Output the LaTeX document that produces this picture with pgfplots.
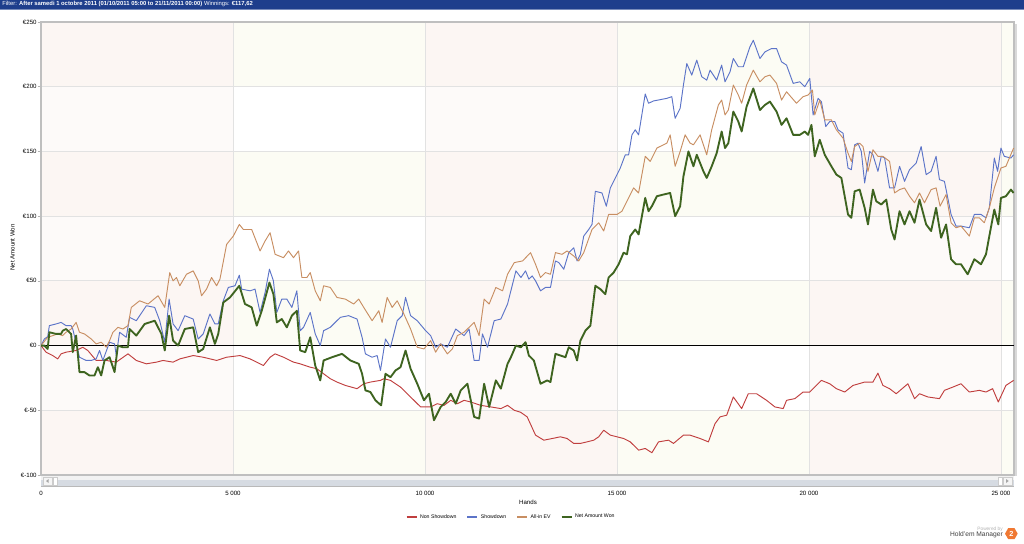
\documentclass[border=0pt]{standalone}
\usepackage{fontspec}
\setmainfont{Liberation Sans}
\usepackage{pgfplots}
\pgfplotsset{compat=1.18}
\usetikzlibrary{shapes.geometric}
\definecolor{hdr}{RGB}{30,62,140}
\definecolor{cRed}{RGB}{192,62,62}
\definecolor{cBlue}{RGB}{92,116,200}
\definecolor{cOrange}{RGB}{200,142,98}
\definecolor{cGreen}{RGB}{62,100,32}
\definecolor{pinkT}{RGB}{252,246,243}
\definecolor{pinkW}{RGB}{253,250,249}
\definecolor{yelT}{RGB}{252,252,244}
\definecolor{gridc}{RGB}{226,226,226}
\definecolor{scrl}{RGB}{214,219,226}
\begin{document}
\begin{tikzpicture}
\begin{axis}[
  at={(30.75pt,51pt)}, anchor=south west,
  scale only axis, width=729.75pt, height=339.75pt,
  xmin=0, xmax=25340, ymin=-100, ymax=250,
  scaled ticks=false,
  xtick={0,5000,10000,15000,20000,25000},
  xticklabels={0,5 000,10 000,15 000,20 000,25 000},
  ytick={-100,-50,0,50,100,150,200,250},
  yticklabels={€-100,€-50,€0,€50,€100,€150,€200,€250},
  grid=major, grid style={gridc, line width=0.6pt},
  axis line style={gray!50, line width=0.8pt},
  tick label style={font=\fontsize{4.6}{5}\selectfont},
  xtick style={draw=none},
  ytick style={gray!60, line width=0.5pt},
  major tick length=2.5pt, tick align=outside,
  ytick pos=left, xtick pos=bottom,
  xticklabel style={anchor=center, yshift=-11pt},
  yticklabel style={anchor=east, inner sep=0.6pt},
  set layers, clip=true,
  legend columns=4,
  legend style={at={(0.4835,-0.093)}, anchor=center, draw=none, fill=none,
    font=\fontsize{3.9}{4.5}\selectfont,
    /tikz/every even column/.append style={column sep=5.5pt}},
  legend image code/.code={\draw[#1, line width=1.3pt] (0pt,0pt) -- (7.5pt,0pt);},
]
\begin{pgfonlayer}{axis background}
\fill[yelT] (axis cs:0,-100) rectangle (axis cs:25340,250);
\fill[pinkT] (axis cs:0,-100) rectangle (axis cs:5000,250);
\fill[pinkT] (axis cs:10000,-100) rectangle (axis cs:15000,250);
\fill[pinkT] (axis cs:20000,-100) rectangle (axis cs:25000,250);
\fill[white] (axis cs:0,150) rectangle (axis cs:25340,200);
\fill[white] (axis cs:0,50) rectangle (axis cs:25340,100);
\fill[white] (axis cs:0,-50) rectangle (axis cs:25340,0);
\fill[pinkW] (axis cs:0,150) rectangle (axis cs:5000,200);
\fill[pinkW] (axis cs:0,50) rectangle (axis cs:5000,100);
\fill[pinkW] (axis cs:0,-50) rectangle (axis cs:5000,0);
\fill[pinkW] (axis cs:10000,150) rectangle (axis cs:15000,200);
\fill[pinkW] (axis cs:10000,50) rectangle (axis cs:15000,100);
\fill[pinkW] (axis cs:10000,-50) rectangle (axis cs:15000,0);
\fill[pinkW] (axis cs:20000,150) rectangle (axis cs:25000,200);
\fill[pinkW] (axis cs:20000,50) rectangle (axis cs:25000,100);
\fill[pinkW] (axis cs:20000,-50) rectangle (axis cs:25000,0);
\end{pgfonlayer}
\addplot[black, line width=1.1pt, forget plot] coordinates {(0,0) (25340,0)};
% Non Showdown
\addplot[cRed, line width=0.7pt, line join=round] coordinates {
(0,0) (131,-5.1) (305,-7.7) (436,-10.3) (523,-6.4) (653,-5.1) (915,-3.8) (1089,-1.3)
(1219,-3.8) (1437,-11.5) (1698,-11.5) (1960,-12.8) (2265,-6.4) (2482,-11.5) (2744,-14.1)
(3005,-12.8) (3179,-11.5) (3440,-12.8) (3615,-10.3) (3963,-7.7) (4224,-9.0) (4573,-11.5)
(4834,-9.0) (5182,-7.7) (5444,-10.3) (5618,-12.8) (5792,-15.4) (5966,-9.0) (6097,-6.4)
(6315,-9.0) (6576,-12.8) (6750,-14.1) (7012,-16.7) (7186,-17.9) (7360,-21.8) (7534,-25.6)
(7708,-28.2) (7926,-30.8) (8231,-33.3) (8405,-29.5) (8579,-28.2) (8841,-26.9) (8928,-25.6)
(9102,-26.9) (9363,-32.1) (9537,-37.2) (9712,-42.3) (9886,-47.4) (10147,-47.4) (10321,-44.9)
(10496,-46.2) (10670,-42.3) (10844,-44.9) (11018,-42.3) (11192,-43.6) (11454,-46.2)
(11715,-47.4) (11976,-48.7) (12150,-46.2) (12325,-50.0) (12489,-51.5) (12662,-55.1)
(12879,-69.2) (13095,-73.1) (13312,-71.8) (13528,-70.5) (13701,-71.8) (13874,-75.6)
(14047,-75.6) (14221,-74.4) (14394,-73.1) (14524,-70.5) (14654,-65.4) (14827,-69.2)
(15000,-70.5) (15173,-71.8) (15346,-74.4) (15563,-80.8) (15736,-79.5) (15909,-82.8)
(16082,-74.4) (16342,-73.1) (16472,-75.6) (16731,-69.2) (16905,-69.2) (17164,-71.8)
(17381,-74.4) (17554,-60.3) (17684,-55.1) (17857,-53.8) (18030,-39.7) (18247,-48.7)
(18420,-37.2) (18636,-37.2) (18896,-42.3) (19112,-47.4) (19329,-48.7) (19416,-42.3)
(19632,-41.0) (19848,-35.9) (20021,-35.9) (20324,-26.9) (20541,-29.5) (20714,-33.3)
(20931,-35.9) (21147,-30.8) (21450,-28.2) (21666,-28.2) (21796,-21.3) (21926,-30.8)
(22099,-33.3) (22272,-37.2) (22576,-29.5) (22749,-41.0) (22879,-37.2) (23095,-39.7)
(23398,-41.0) (23528,-34.6) (23744,-32.1) (23961,-29.5) (24177,-35.9) (24437,-34.6)
(24610,-35.9) (24783,-33.3) (24931,-43.6) (25129,-30.8) (25329,-26.9)
};
\addlegendentry{Non Showdown}
% Showdown
\addplot[cBlue, line width=0.7pt, line join=round] coordinates {
(0,0) (87,5.1) (174,6.9) (218,15.4) (392,16.7) (523,17.9) (653,15.4) (784,15.4) (827,12.8)
(1002,-9.0) (1176,-11.5) (1307,-11.5) (1437,-10.3) (1524,-3.8) (1611,-11.5) (1786,2.6)
(1916,1.3) (1960,-7.7) (2047,10.3) (2221,6.4) (2308,21.8) (2482,19.2) (2744,30.8)
(2961,29.5) (3092,19.2) (3223,2.6) (3336,35.9) (3440,16.7) (3571,11.5) (3745,23.1)
(3963,20.5) (4094,5.1) (4224,9.0) (4399,24.4) (4529,16.7) (4616,16.7) (4747,34.6)
(4878,44.9) (5052,46.2) (5165,54.4) (5226,43.6) (5444,42.3) (5574,43.6) (5705,25.6)
(5836,41.0) (5949,59.0) (6053,50.0) (6141,25.6) (6271,35.9) (6402,35.9) (6533,29.5)
(6663,42.3) (6750,11.5) (6837,14.1) (7012,25.6) (7142,9.0) (7273,0) (7360,11.5)
(7534,14.1) (7795,21.8) (8013,23.1) (8231,20.5) (8362,6.4) (8449,-6.4) (8623,-9.0)
(8754,-7.7) (8841,-19.2) (8971,5.1) (9102,-1.3) (9276,19.2) (9407,23.1) (9494,37.2)
(9625,23.1) (9799,19.2) (10017,11.5) (10147,7.7) (10278,-1.3) (10408,1.3) (10583,-1.3)
(10800,12.8) (11018,7.7) (11149,12.8) (11280,-11.5) (11410,-11.5) (11497,9.0) (11628,-1.3)
(11802,19.2) (11976,20.5) (12150,32.1) (12368,57.7) (12499,52.6) (12619,57.7) (12705,51.3)
(12792,53.8) (12879,50.0) (13009,42.3) (13138,44.9) (13268,44.9) (13398,65.4) (13485,64.1)
(13615,59.0) (13744,71.8) (13874,75.6) (13961,65.4) (14047,70.5) (14134,84.6) (14264,89.7)
(14350,93.6) (14437,119.2) (14610,117.9) (14723,107.7) (14827,121.8) (14957,129.5)
(15086,137.2) (15216,147.4) (15303,147.4) (15390,162.8) (15476,166.7) (15563,162.8)
(15736,194.4) (15822,187.2) (15952,189.0) (16299,191.0) (16428,192.3) (16515,175.6)
(16645,183.3) (16731,201.3) (16818,217.9) (16948,209.0) (17078,220.5) (17208,207.7)
(17338,205.1) (17424,212.8) (17597,205.1) (17727,216.7) (17814,203.8) (17944,211.5)
(18030,221.8) (18160,215.4) (18290,215.4) (18463,230.8) (18550,235.9) (18723,221.8)
(18853,226.9) (19026,229.5) (19156,229.5) (19286,219.2) (19416,216.7) (19589,202.6)
(19762,203.8) (19892,200.0) (20021,206.4) (20108,178.2) (20238,191.0) (20324,188.5)
(20437,169.2) (20541,173.1) (20671,173.1) (20757,166.7) (20887,164.1) (21017,137.2)
(21104,135.9) (21190,155.1) (21277,156.4) (21363,150.0) (21450,125.6) (21580,150.0)
(21666,147.4) (21796,134.6) (21883,146.2) (21970,144.9) (22099,121.8) (22229,121.8)
(22359,138.5) (22489,126.9) (22619,135.9) (22792,141.0) (22922,153.8) (23052,132.1)
(23181,134.6) (23311,146.2) (23398,128.2) (23528,126.9) (23701,101.3) (23831,92.3)
(23961,92.3) (24177,91.0) (24307,101.3) (24480,101.3) (24610,98.7) (24697,106.4)
(24827,144.9) (24913,134.6) (25000,152.6) (25086,146.2) (25259,144.9) (25329,147.4)
};
\addlegendentry{Showdown}
% All-in EV
\addplot[cOrange, line width=0.7pt, line join=round] coordinates {
(0,0) (174,6.4) (305,7.7) (436,9.0) (566,7.7) (653,10.3) (784,12.8) (915,17.9) (1002,10.3)
(1132,9.0) (1307,5.1) (1437,1.3) (1568,2.6) (1698,-1.3) (1786,3.8) (1873,10.3) (2003,14.1)
(2134,12.8) (2265,15.4) (2352,29.5) (2569,34.6) (2787,32.1) (3049,38.5) (3223,29.5)
(3353,56.4) (3440,50.0) (3528,52.6) (3615,46.2) (3789,55.1) (3963,57.7) (4094,50.0)
(4181,38.5) (4311,43.6) (4442,52.6) (4573,46.2) (4660,51.3) (4834,78.2) (5008,84.6)
(5165,93.6) (5270,89.7) (5487,89.7) (5705,73.1) (5836,80.8) (5966,87.2) (6097,70.5)
(6315,67.9) (6445,73.1) (6576,67.9) (6707,73.1) (6794,52.6) (6924,52.6) (7012,56.4)
(7142,42.3) (7273,34.6) (7360,46.2) (7534,44.9) (7708,37.2) (7926,35.9) (8144,32.1)
(8275,35.9) (8405,29.5) (8623,19.2) (8797,26.9) (8884,17.9) (9015,37.2) (9146,29.5)
(9276,34.6) (9450,24.4) (9625,12.8) (9799,-1.3) (9973,-2.6) (10147,3.8) (10278,-5.1)
(10408,1.3) (10583,-6.4) (10713,-2.6) (10844,7.7) (11018,10.3) (11280,17.9) (11410,7.7)
(11541,35.9) (11671,32.1) (11846,44.9) (12020,42.3) (12150,55.1) (12325,64.1) (12542,65.4)
(12749,71.8) (12879,62.8) (13009,52.6) (13138,56.4) (13268,55.1) (13398,71.8) (13571,70.5)
(13701,73.1) (13874,69.2) (14004,65.4) (14134,71.8) (14350,89.7) (14524,94.9) (14654,88.5)
(14783,101.3) (15000,101.3) (15130,103.8) (15260,111.5) (15433,121.8) (15563,117.9)
(15649,132.1) (15736,146.2) (15866,142.3) (16039,152.6) (16299,156.4) (16385,162.8)
(16515,138.5) (16645,150.0) (16775,162.8) (16905,156.4) (16991,155.1) (17164,162.8)
(17338,147.4) (17467,166.7) (17641,185.9) (17727,189.7) (17814,178.2) (17900,182.0)
(18030,201.3) (18160,193.6) (18247,187.2) (18376,201.3) (18550,212.8) (18723,203.8)
(18853,207.7) (18983,209.0) (19156,202.6) (19286,189.7) (19416,196.1) (19675,187.2)
(19848,192.3) (19978,193.6) (20091,197.4) (20151,178.2) (20281,189.7) (20411,174.4)
(20584,174.4) (20714,166.7) (20887,160.3) (21017,148.7) (21104,142.3) (21190,153.8)
(21320,156.4) (21407,153.8) (21537,134.6) (21666,151.3) (21796,146.2) (21926,146.2)
(22099,142.3) (22229,117.9) (22359,120.5) (22489,121.8) (22619,115.4) (22749,110.3)
(22879,117.9) (23008,110.3) (23181,120.5) (23311,121.8) (23415,107.7) (23571,116.7)
(23701,94.9) (23831,91.0) (23961,92.3) (24177,84.6) (24307,98.7) (24437,98.7) (24567,94.9)
(24697,106.4) (24827,121.8) (25000,137.2) (25129,138.5) (25329,152.6)
};
\addlegendentry{All-in EV}
% Net Amount Won
\addplot[cGreen, line width=1.4pt, line join=round] coordinates {
(0,0) (87,0) (174,-2.6) (218,10.3) (392,9.0) (523,9.0) (566,11.5) (653,12.8) (784,9.0)
(827,-5.1) (915,7.7) (1002,-20.5) (1132,-20.5) (1263,-23.1) (1394,-23.1) (1481,-16.7)
(1568,-23.1) (1655,-11.5) (1786,-9.0) (1916,-20.5) (2003,0) (2134,-1.3) (2265,-1.3)
(2308,12.8) (2482,7.7) (2700,16.7) (2961,19.2) (3136,9.0) (3223,-3.8) (3336,23.1)
(3440,3.8) (3571,0) (3745,12.8) (3963,14.1) (4094,-5.1) (4224,-2.6) (4399,14.1) (4529,1.3)
(4616,9.0) (4747,33.3) (4921,37.2) (5165,46.2) (5313,32.1) (5487,29.5) (5618,15.4)
(5749,26.9) (5949,48.7) (6053,39.7) (6141,17.9) (6271,20.5) (6402,14.1) (6533,23.1)
(6663,26.9) (6750,-3.8) (6881,-5.1) (7012,6.4) (7142,-15.4) (7273,-26.9) (7360,-11.5)
(7578,-9.0) (7839,-6.4) (8057,-11.5) (8275,-14.1) (8362,-21.8) (8449,-34.6) (8579,-35.9)
(8710,-42.3) (8858,-46.2) (8971,-21.8) (9102,-24.4) (9233,-19.2) (9363,-16.7) (9494,-3.8)
(9625,-17.9) (9799,-29.5) (9973,-42.3) (10104,-37.2) (10234,-57.7) (10408,-47.4)
(10539,-43.6) (10670,-37.2) (10800,-44.9) (10931,-34.6) (11105,-29.5) (11280,-55.1)
(11410,-56.4) (11541,-29.5) (11671,-47.4) (11846,-26.9) (11976,-33.3) (12150,-14.1)
(12237,-9.0) (12368,0) (12499,-1.3) (12619,2.6) (12705,-7.7) (12835,-11.5) (13009,-29.5)
(13182,-26.9) (13268,-28.2) (13398,-6.4) (13528,-7.7) (13658,-9.0) (13744,-1.3)
(13874,-3.8) (13961,-11.5) (14047,3.8) (14177,11.5) (14307,15.4) (14437,46.2) (14567,43.6)
(14697,39.7) (14783,52.6) (14913,56.4) (15043,62.8) (15173,71.8) (15260,70.5) (15346,84.6)
(15476,89.7) (15563,85.9) (15736,114.1) (15822,103.8) (15909,107.7) (16039,115.4)
(16212,116.7) (16385,117.9) (16515,100.0) (16645,107.7) (16731,130.8) (16861,150.0)
(16991,138.5) (17078,147.4) (17251,134.6) (17338,129.5) (17467,138.5) (17597,148.7)
(17727,165.4) (17814,152.6) (17900,156.4) (18030,180.8) (18160,173.1) (18247,165.4)
(18376,184.6) (18550,198.7) (18723,182.0) (18853,185.9) (18983,188.5) (19156,180.8)
(19286,170.5) (19416,175.6) (19589,162.8) (19762,162.8) (19892,165.4) (19978,162.8)
(20065,170.5) (20151,146.2) (20281,159.0) (20411,147.4) (20584,138.5) (20714,132.1)
(20844,129.5) (21017,101.3) (21104,98.7) (21190,119.2) (21320,120.5) (21450,106.4)
(21537,93.6) (21666,120.5) (21753,111.5) (21883,109.0) (22013,112.8) (22143,89.7)
(22229,82.0) (22359,103.8) (22489,93.6) (22619,103.8) (22749,94.9) (22879,112.8)
(23052,93.6) (23181,88.5) (23311,106.4) (23441,83.3) (23571,93.6) (23701,66.7) (23831,62.8)
(23961,62.8) (24134,55.1) (24307,66.7) (24480,62.8) (24610,70.5) (24697,84.6) (24827,105.1)
(24931,93.6) (25000,114.1) (25129,115.4) (25259,120.5) (25329,117.9)
};
\addlegendentry{Net Amount Won}
\end{axis}
% header
\fill[hdr] (0,400.5pt) rectangle (768pt,407.25pt);
\draw[hdr!60, line width=0.5pt] (0,400.5pt) -- (768pt,400.5pt);
\node[anchor=west, text=white, font=\fontsize{4.4}{5}\selectfont, inner sep=0pt] at (1.5pt,403.9pt) {Filter: \textbf{After samedi 1 octobre 2011 (01/10/2011 05:00 to 21/11/2011 00:00)} Winnings: \textbf{€117,62}};
% scrollbar
\fill[scrl] (30.75pt,42.75pt) rectangle (760.5pt,50.25pt);
\fill[gray!10] (30.75pt,47pt) rectangle (760.5pt,50.25pt);
\draw[gray!55, line width=0.4pt] (30.75pt,42.75pt) -- (760.5pt,42.75pt);
\draw[gray!40, fill=gray!8, line width=0.3pt] (32.25pt,43.5pt) rectangle (39pt,49.5pt);
\fill[gray!70] (34.5pt,46.5pt) -- (36.5pt,48pt) -- (36.5pt,45pt) -- cycle;
\draw[gray!40, fill=white, line width=0.3pt] (39.75pt,43.5pt) rectangle (42.75pt,49.5pt);
\draw[gray!40, fill=white, line width=0.3pt] (748.5pt,43.5pt) rectangle (751.5pt,49.5pt);
\draw[gray!40, fill=gray!8, line width=0.3pt] (752.25pt,43.5pt) rectangle (759pt,49.5pt);
\fill[gray!70] (756.5pt,46.5pt) -- (754.5pt,48pt) -- (754.5pt,45pt) -- cycle;
% shadow of plot frame
\fill[gray!30] (760.9pt,50pt) rectangle (762.5pt,389pt);
% axis description texts
\node[rotate=90, font=\fontsize{4.6}{5}\selectfont, inner sep=0pt] at (9.5pt,221.6pt) {Net Amount Won};
\node[font=\fontsize{4.6}{5}\selectfont, inner sep=0pt] at (396pt,30.75pt) {Hands};
% logo
\node[anchor=east, text=gray!60, font=\fontsize{3.6}{4}\selectfont, inner sep=0pt] at (752.25pt,10.5pt) {Powered by};
\node[anchor=east, text=black!75, font=\fontsize{5}{6}\selectfont, inner sep=0pt] at (752.25pt,6pt) {Hold'em Manager};
\node[regular polygon, regular polygon sides=6, fill={rgb,255:red,240;green,120;blue,50}, minimum size=9.5pt, inner sep=0pt, text=white, font=\bfseries\fontsize{5.5}{6}\selectfont] at (758.5pt,7pt) {2};
\pgfresetboundingbox
\useasboundingbox (0,0) rectangle (768pt,407.25pt);
\end{tikzpicture}
\end{document}
